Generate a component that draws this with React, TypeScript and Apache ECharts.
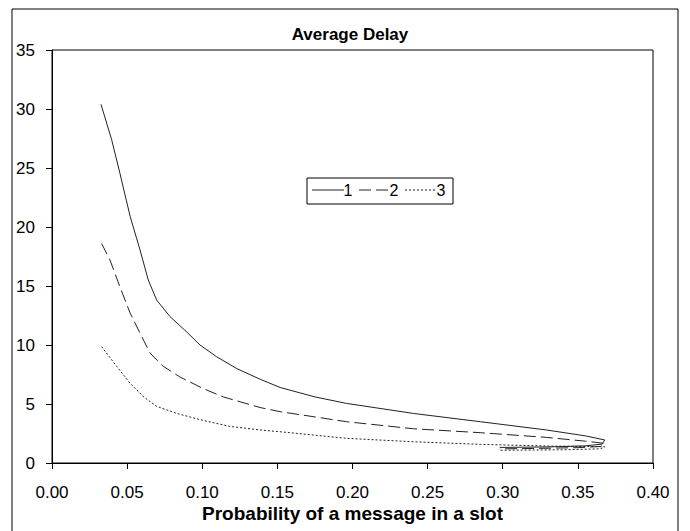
import React, { useEffect, useRef } from "react";
import * as echarts from "echarts";

const xTicks = [0, 0.05, 0.1, 0.15, 0.2, 0.25, 0.3, 0.35, 0.4];
const seriesNames = ["1", "2", "3"];

const curve1: [number, number][] = [
  [0.0326, 30.4], [0.0397, 27.4], [0.0453, 24.5], [0.052, 20.9], [0.0586, 18.05],
  [0.0641, 15.5], [0.0697, 13.8], [0.0786, 12.4], [0.0897, 11.1], [0.0985, 10.0],
  [0.1096, 9.0], [0.123, 8.0], [0.1385, 7.1], [0.1518, 6.4], [0.175, 5.6], [0.196, 5.05],
  [0.2406, 4.2], [0.285, 3.5], [0.329, 2.8], [0.355, 2.3], [0.3679, 1.95],
  [0.366, 1.6], [0.355, 1.45], [0.33, 1.36], [0.298, 1.32],
];
const curve2: [number, number][] = [
  [0.033, 18.6], [0.0386, 17.2], [0.0453, 14.9], [0.052, 12.7], [0.0586, 11.0],
  [0.0653, 9.3], [0.074, 8.2], [0.085, 7.3], [0.1008, 6.3], [0.114, 5.6],
  [0.1385, 4.7], [0.1518, 4.35], [0.196, 3.5], [0.2406, 2.9], [0.285, 2.57],
  [0.329, 2.17], [0.355, 1.85], [0.3679, 1.66], [0.365, 1.4], [0.35, 1.3],
  [0.32, 1.23], [0.298, 1.2],
];
const curve3: [number, number][] = [
  [0.033, 9.86], [0.043, 8.2], [0.052, 6.75], [0.061, 5.6], [0.0697, 4.8],
  [0.083, 4.2], [0.1008, 3.6], [0.1185, 3.1], [0.1385, 2.8], [0.1518, 2.65],
  [0.196, 2.09], [0.2406, 1.8], [0.285, 1.58], [0.329, 1.44], [0.3679, 1.38],
  [0.365, 1.2], [0.34, 1.12], [0.298, 1.08],
];
const curves = [curve1, curve2, curve3];
const lineTypes: any[] = ["solid", [12, 5], [2, 2]];

export default function App() {
  const ref = useRef<HTMLDivElement>(null);
  useEffect(() => {
    if (!ref.current) return;
    const chart = echarts.init(ref.current, null, { renderer: "svg" });
    const font = "Liberation Sans, Arial, sans-serif";
    const lineColor = "#222";
    const legendItems: any[] = [];
    const lx = [312, 359, 405];
    const tx = [348, 394, 441];
    seriesNames.forEach((n, i) => {
      legendItems.push({
        type: "line",
        shape: { x1: lx[i], y1: 190, x2: lx[i] + 32, y2: 190 },
        style: { stroke: lineColor, lineWidth: 1, lineDash: i === 0 ? null : lineTypes[i] },
        silent: true,
      });
      legendItems.push({
        type: "text",
        x: tx[i],
        y: 190,
        style: {
          text: n,
          fontFamily: font,
          fontSize: 16,
          fill: "#000",
          align: "center",
          verticalAlign: "middle",
        },
        silent: true,
      });
    });
    chart.setOption({
      animation: false,
      backgroundColor: "#ffffff",
      title: {
        text: "Average Delay",
        left: 345,
        top: 21,
        textAlign: "center",
        textStyle: { fontFamily: font, fontSize: 17, fontWeight: "bold", color: "#000" },
      },
      graphic: [
        {
          type: "rect",
          shape: { x: 12, y: 9, width: 666, height: 540 },
          style: { fill: "none", stroke: "#000", lineWidth: 1 },
          silent: true,
        },
        {
          type: "rect",
          shape: { x: 307, y: 178, width: 146, height: 26 },
          style: { fill: "#fff", stroke: "#000", lineWidth: 1 },
          silent: true,
          z: 10,
        },
        ...legendItems.map((g) => ({ ...g, z: 11 })),
      ],
      grid: { left: 52, right: 37, top: 50, bottom: 68, show: true, borderColor: "#000", borderWidth: 1 },
      xAxis: {
        type: "value",
        min: 0,
        max: 0.4,
        interval: 0.05,
        name: "Probability of a message in a slot",
        nameLocation: "middle",
        nameGap: 41,
        nameMoveOverlap: false,
        nameTextStyle: { fontFamily: font, fontSize: 19, fontWeight: "bold", color: "#000" },
        axisLine: { lineStyle: { color: "#000" } },
        axisTick: { show: true, length: 6, inside: false, lineStyle: { color: "#000" } },
        splitLine: { show: false },
        axisLabel: {
          fontFamily: font,
          fontSize: 17,
          color: "#000",
          margin: 21,
          formatter: (v: number) => {
            const t = xTicks.find((x) => Math.abs(x - v) < 1e-9);
            return (t !== undefined ? t : v).toFixed(2);
          },
        },
      },
      yAxis: {
        type: "value",
        min: 0,
        max: 35,
        interval: 5,
        axisLine: { show: true, lineStyle: { color: "#000" } },
        axisTick: { show: true, length: 6, lineStyle: { color: "#000" } },
        splitLine: { show: false },
        axisLabel: { fontFamily: font, fontSize: 17, color: "#000", margin: 17 },
      },
      series: curves.map((c, i) => ({
        name: seriesNames[i],
        type: "line",
        data: c,
        showSymbol: false,
        symbol: "none",
        smooth: false,
        lineStyle: { color: lineColor, width: 1, type: lineTypes[i] },
        itemStyle: { color: lineColor },
      })),
    });
    return () => chart.dispose();
  }, []);
  return (
    <div
      ref={ref}
      style={{ position: "fixed", left: 0, top: 0, width: 690, height: 531 }}
    />
  );
}
